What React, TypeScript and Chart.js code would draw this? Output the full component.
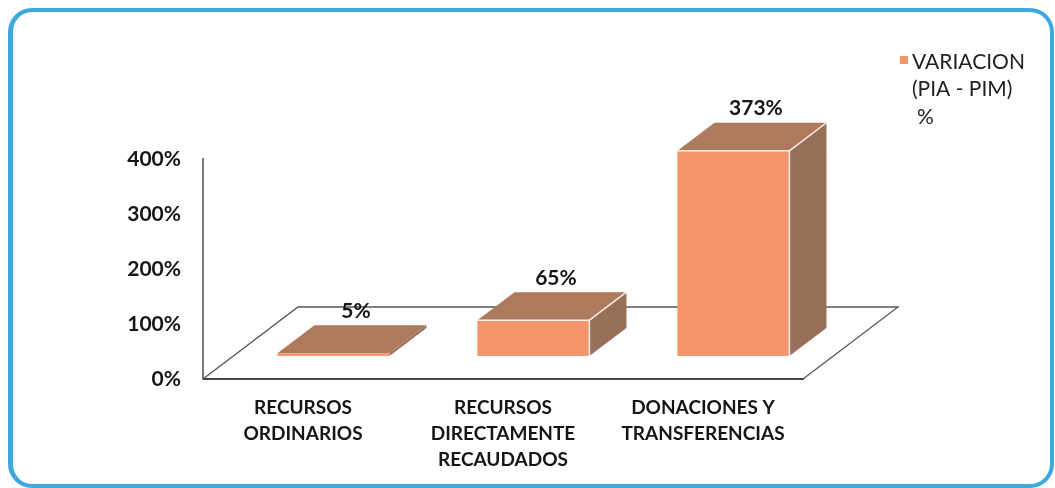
import { useEffect, useRef } from 'react';
import { Chart, registerables } from 'chart.js';

Chart.register(...registerables);

// ---- data ----
const categories: string[][] = [
  ['RECURSOS', 'ORDINARIOS'],
  ['RECURSOS', 'DIRECTAMENTE', 'RECAUDADOS'],
  ['DONACIONES Y', 'TRANSFERENCIAS'],
];
const seriesLabel = 'VARIACION (PIA - PIM) %';
const variacion = [5, 65, 373];
const yTickValues = [0, 100, 200, 300, 400];

// ---- style ----
const FRONT_COLOR = '#F4956B';
const TOP_COLOR = '#AE7A5D';
const SIDE_COLOR = '#98705A';
const EDGE_COLOR = 'rgba(255,246,236,0.95)';
const FONT = 'Lato, "Open Sans", sans-serif';
const FLOOR_DX = 95;
const FLOOR_DY = -72;
const BAR_FRONT = 0.32;
const BAR_DEPTH = 0.39;

const floorPlugin = {
  id: 'floor3d',
  beforeDatasetsDraw(chart: any) {
    const { ctx, chartArea } = chart;
    const { left, right, bottom } = chartArea;
    ctx.save();
    ctx.strokeStyle = '#555';
    ctx.lineWidth = 1.3;
    ctx.beginPath();
    ctx.moveTo(left, bottom);
    ctx.lineTo(left + FLOOR_DX, bottom + FLOOR_DY);
    ctx.lineTo(right + FLOOR_DX, bottom + FLOOR_DY);
    ctx.lineTo(right, bottom);
    ctx.stroke();
    ctx.restore();
  },
};

const bars3dPlugin = {
  id: 'bars3d',
  afterDatasetsDraw(chart: any) {
    const { ctx } = chart;
    const meta = chart.getDatasetMeta(0);
    const values = chart.data.datasets[0].data as number[];
    const ox = FLOOR_DX * BAR_FRONT;
    const oy = FLOOR_DY * BAR_FRONT;
    const ddx = FLOOR_DX * BAR_DEPTH;
    const ddy = FLOOR_DY * BAR_DEPTH;
    ctx.save();
    meta.data.forEach((el: any, i: number) => {
      const { x, y, base, width } = el.getProps(['x', 'y', 'base', 'width'], true);
      const L = x - width / 2 + ox;
      const R = L + width;
      const T = y + oy;
      const B = base + oy;
      ctx.lineJoin = 'round';
      ctx.strokeStyle = EDGE_COLOR;
      ctx.lineWidth = 1.5;
      // side face
      ctx.beginPath();
      ctx.moveTo(R, T);
      ctx.lineTo(R + ddx, T + ddy);
      ctx.lineTo(R + ddx, B + ddy);
      ctx.lineTo(R, B);
      ctx.closePath();
      ctx.fillStyle = SIDE_COLOR;
      ctx.fill();
      // top face
      ctx.beginPath();
      ctx.moveTo(L, T);
      ctx.lineTo(R, T);
      ctx.lineTo(R + ddx, T + ddy);
      ctx.lineTo(L + ddx, T + ddy);
      ctx.closePath();
      ctx.fillStyle = TOP_COLOR;
      ctx.fill();
      // front face
      ctx.fillStyle = FRONT_COLOR;
      ctx.fillRect(L, T, width, B - T);
      // edges
      if (B - T > 4) {
        ctx.beginPath();
        ctx.moveTo(L, T);
        ctx.lineTo(R, T);
        ctx.lineTo(R, B);
        ctx.moveTo(R, T);
        ctx.lineTo(R + ddx, T + ddy);
        ctx.stroke();
      }
      // value label
      ctx.fillStyle = '#151515';
      ctx.font = `bold 21px ${FONT}`;
      ctx.textAlign = 'center';
      ctx.textBaseline = 'middle';
      ctx.fillText(`${values[i]}%`, L + width / 2 + ddx / 2 + 4, T + ddy - 14);
    });
    ctx.restore();
  },
};

const legendPlugin = {
  id: 'wrappedLegend',
  afterDraw(chart: any) {
    const { ctx } = chart;
    const label: string = chart.data.datasets[0].label;
    ctx.save();
    ctx.font = `21px ${FONT}`;
    const maxW = 112;
    const words = label.split(' ');
    const lines: string[] = [];
    let cur = '';
    words.forEach((w) => {
      const test = cur ? cur + ' ' + w : w;
      if (ctx.measureText(test).width > maxW && cur) {
        lines.push(cur);
        cur = w;
      } else cur = test;
    });
    if (cur) lines.push(cur);
    ctx.fillStyle = FRONT_COLOR;
    ctx.fillRect(900, 56, 8, 8);
    ctx.fillStyle = '#222';
    ctx.textAlign = 'left';
    ctx.textBaseline = 'middle';
    lines.forEach((ln, i) => {
      const xx = ln.length <= 2 ? 917 : 912;
      ctx.fillText(ln, xx, 62 + i * 27.5);
    });
    ctx.restore();
  },
};

export default function App() {
  const ref = useRef<HTMLCanvasElement | null>(null);
  useEffect(() => {
    if (!ref.current) return;
    const chart = new Chart(ref.current, {
      type: 'bar',
      data: {
        labels: categories,
        datasets: [
          {
            label: seriesLabel,
            data: variacion,
            backgroundColor: 'rgba(0,0,0,0)',
            borderWidth: 0,
            categoryPercentage: 1,
            barPercentage: 0.56,
          },
        ],
      },
      options: {
        animation: false,
        responsive: true,
        maintainAspectRatio: false,
        layout: { padding: { top: 159, right: 252, bottom: 0, left: 0 } },
        plugins: {
          legend: { display: false },
          tooltip: { enabled: false },
        },
        scales: {
          x: {
            grid: { display: false, drawTicks: false },
            border: { display: true, color: '#474747', width: 2 },
            ticks: {
              color: '#151515',
              font: { family: FONT, size: 19, weight: 'bold', lineHeight: 1.37 },
              padding: 16,
              maxRotation: 0,
              autoSkip: false,
            },
            afterFit: (s: any) => {
              s.height = 109;
            },
          },
          y: {
            min: yTickValues[0],
            max: yTickValues[yTickValues.length - 1],
            grid: { display: false, drawTicks: false },
            border: { display: true, color: '#7a7a7a', width: 2 },
            afterBuildTicks: (s: any) => {
              s.ticks = yTickValues.map((v) => ({ value: v }));
            },
            ticks: {
              color: '#151515',
              font: { family: FONT, size: 21, weight: 'bold' },
              padding: 22,
              callback: (v: any) => `${v}%`,
            },
            afterFit: (s: any) => {
              s.width = 203;
            },
          },
        },
      },
      plugins: [floorPlugin, bars3dPlugin, legendPlugin],
    });
    return () => chart.destroy();
  }, []);

  return (
    <div style={{ position: 'absolute', left: 0, top: 0, width: 1055, height: 488, background: '#fff' }}>
      <div
        style={{
          position: 'absolute',
          left: 8,
          top: 8,
          width: 1046,
          height: 480,
          boxSizing: 'border-box',
          border: '4px solid #3DA9DE',
          borderLeftWidth: 5,
          borderRadius: 24,
        }}
      />
      <canvas ref={ref} style={{ position: 'absolute', left: 0, top: 0, width: 1055, height: 488 }} />
    </div>
  );
}
